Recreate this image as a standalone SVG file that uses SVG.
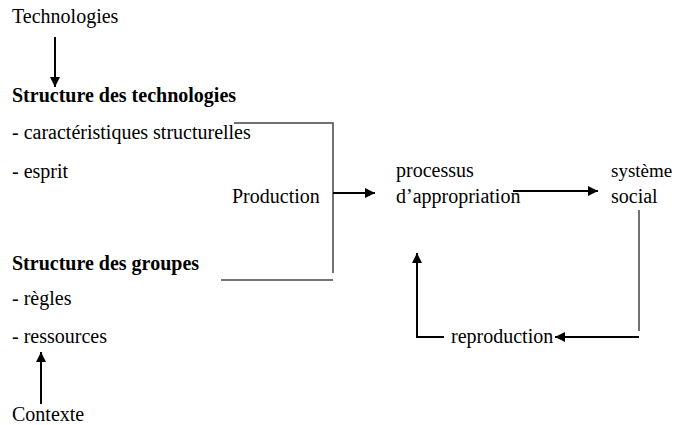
<svg xmlns="http://www.w3.org/2000/svg" width="676" height="425" viewBox="0 0 676 425">
<defs>
<marker id="ah" viewBox="0 0 10 10" refX="10" refY="5" markerWidth="6" markerHeight="5" orient="auto" markerUnits="strokeWidth">
<path d="M0,0 L10,5 L0,10 z" fill="#000"/>
</marker>
</defs>
<rect width="676" height="425" fill="#fff"/>
<g id="technologies"><text font-family="Liberation Serif" font-size="20" x="12" y="23">Technologies</text></g>
<g id="structure-tech">
<text font-family="Liberation Serif" font-size="20" font-weight="bold" x="12" y="102">Structure des technologies</text>
<text font-family="Liberation Serif" font-size="20" x="12" y="139">- caractéristiques structurelles</text>
<text font-family="Liberation Serif" font-size="20" x="12" y="178">- esprit</text>
</g>
<g id="production"><text font-family="Liberation Serif" font-size="20" x="232" y="203">Production</text></g>
<g id="processus"><text font-family="Liberation Serif" font-size="20" x="396" y="177">processus</text><text font-family="Liberation Serif" font-size="20" x="396" y="203">d’appropriation</text></g>
<g id="systeme"><text font-family="Liberation Serif" font-size="19" x="611" y="177">système</text><text font-family="Liberation Serif" font-size="20" x="611" y="203">social</text></g>
<g id="structure-groupes">
<text font-family="Liberation Serif" font-size="20" font-weight="bold" x="12" y="270">Structure des groupes</text>
<text font-family="Liberation Serif" font-size="20" x="12" y="305">- règles</text>
<text font-family="Liberation Serif" font-size="20" x="12" y="343">- ressources</text>
</g>
<g id="reproduction"><text font-family="Liberation Serif" font-size="20" x="451" y="343">reproduction</text></g>
<g id="contexte"><text font-family="Liberation Serif" font-size="20" x="12" y="421">Contexte</text></g>
<g id="connectors" fill="none">
<line stroke="#000" stroke-width="2" x1="55" y1="37" x2="55" y2="87" marker-end="url(#ah)"/>
<polyline stroke="#444" stroke-width="1.5" points="234,123 333,123 333,273"/>
<line stroke="#444" stroke-width="1.5" x1="221" y1="280" x2="333" y2="280"/>
<line stroke="#000" stroke-width="2" x1="333" y1="193" x2="375" y2="193" marker-end="url(#ah)"/>
<line stroke="#000" stroke-width="2" x1="513" y1="191" x2="598" y2="191" marker-end="url(#ah)"/>
<line stroke="#444" stroke-width="1.5" x1="639" y1="210" x2="639" y2="331"/>
<line stroke="#000" stroke-width="2" x1="639" y1="337" x2="555" y2="337" marker-end="url(#ah)"/>
<polyline stroke="#000" stroke-width="2" points="444,337 417,337 417,253" marker-end="url(#ah)"/>
<line stroke="#000" stroke-width="2" x1="41" y1="404" x2="41" y2="352" marker-end="url(#ah)"/>
</g>
</svg>
